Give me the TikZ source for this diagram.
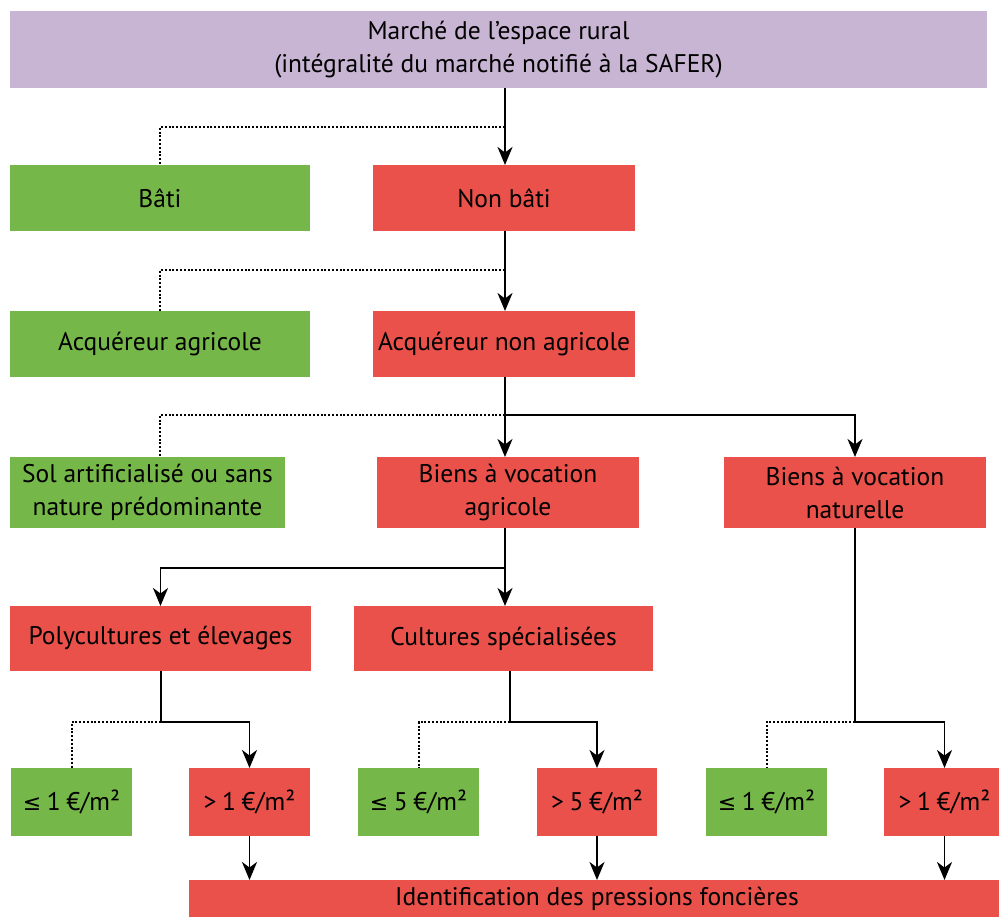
\documentclass[tikz,border=0pt]{standalone}
\usepackage{fontspec}
\setmainfont{PT Sans}
\newfontfamily\symfont{DejaVu Sans}
\usetikzlibrary{arrows.meta,calc}
\definecolor{cpurple}{HTML}{C8B4D3}
\definecolor{cgreen}{HTML}{75B748}
\definecolor{cred}{HTML}{E9514A}
\newcommand{\lesym}{{\symfont\fontsize{22}{22}\selectfont ≤}}
\newcommand{\eur}[1]{#1\hspace{0.22em}€/m²}
\begin{document}
\begin{tikzpicture}[x=1pt,y=-1pt,
  box/.style={inner sep=0pt, outer sep=0pt, align=center, text=black,
    font=\fontsize{25.5}{33}\selectfont},
  gbox/.style={box, fill=cgreen},
  rbox/.style={box, fill=cred},
  pbox/.style={box, fill=cpurple},
  conn/.style={line width=1.9pt, black},
  arr/.style={conn, -{Stealth[length=18pt,width=15pt,inset=5.5pt]}},
  dotl/.style={line width=2pt, black, dash pattern=on 2pt off 1.8pt}]
\useasboundingbox (0,0) rectangle (999,917);
\clip (0,0) rectangle (999,917);

% nodes
\node[pbox, minimum width=977pt, minimum height=77pt] (top) at (498.5,49.5)
  {Marché de l’espace rural\\(intégralité du marché notifié à la SAFER)};
\node[gbox, minimum width=300pt, minimum height=66pt] (bati) at (160,198) {Bâti};
\node[rbox, minimum width=262pt, minimum height=66pt] (nonbati) at (504,198) {Non bâti};
\node[gbox, minimum width=300pt, minimum height=66pt] (acqagr) at (160,344) {Acquéreur agricole};
\node[rbox, minimum width=262pt, minimum height=66pt] (acqnon) at (504,344) {Acquéreur non agricole};
\node[gbox, minimum width=275pt, minimum height=71pt] (sol) at (147.5,492.5)
  {Sol artificialisé ou sans\\nature prédominante};
\node[rbox, minimum width=262pt, minimum height=71pt] (bagr) at (508,492.5)
  {Biens à vocation\\agricole};
\node[rbox, minimum width=262pt, minimum height=71pt] (bnat) at (855,492.5)
  {Biens à vocation\\naturelle};
\node[rbox, minimum width=301pt, minimum height=65pt] (poly) at (160.5,638.5) {Polycultures et élevages};
\node[rbox, minimum width=299pt, minimum height=65pt] (cult) at (503.5,638.5) {Cultures spécialisées};
\node[gbox, minimum width=121pt, minimum height=68pt] (lea) at (71.5,802) {\lesym\hspace{0.22em}\eur{1}};
\node[rbox, minimum width=121pt, minimum height=68pt] (gta) at (249.5,802) {>\hspace{0.22em}\eur{1}};
\node[gbox, minimum width=121pt, minimum height=68pt] (leb) at (418.5,802) {\lesym\hspace{0.22em}\eur{5}};
\node[rbox, minimum width=120pt, minimum height=68pt] (gtb) at (597,802) {>\hspace{0.22em}\eur{5}};
\node[gbox, minimum width=121pt, minimum height=68pt] (lec) at (766.5,802) {\lesym\hspace{0.22em}\eur{1}};
\node[rbox, minimum width=121pt, minimum height=68pt] (gtc) at (944.5,802) {>\hspace{0.22em}\eur{1}};
\node[rbox, minimum width=816pt, minimum height=38pt] (ident) at (597,899)
  {Identification des pressions foncières};

% junctions
\coordinate (j1) at (505,127);
\coordinate (j2) at (505,270);
\coordinate (j3) at (505,415);
\coordinate (d3) at (160,415);
\coordinate (j4) at (505,568);
\coordinate (j5) at (161,722);
\coordinate (j6) at (510,722);
\coordinate (j7) at (855,722);

% level 1
\draw[dotl] (j1) -| (bati.north);
\draw[arr] (j1 |- top.south) -- (j1 |- nonbati.north);
% level 2
\draw[dotl] (j2) -| (acqagr.north);
\draw[arr] (j2 |- nonbati.south) -- (j2 |- acqnon.north);
% level 3
\draw[dotl] (j3) -- (d3) -- (d3 |- sol.north);
\draw[arr] (j3 |- acqnon.south) -- (j3 |- bagr.north);
\draw[arr] (j3) -| (bnat.north);
% level 4
\draw[arr] (j4 |- bagr.south) -- (j4 |- cult.north);
\draw[arr] (j4) -| (poly.north);
% level 5
\draw[conn] (j5 |- poly.south) -- (j5);
\draw[dotl] (j5) -| (lea.north);
\draw[arr] (j5) -| (gta.north);
\draw[conn] (j6 |- cult.south) -- (j6);
\draw[dotl] (j6) -| (leb.north);
\draw[arr] (j6) -| (gtb.north);
\draw[conn] (j7 |- bnat.south) -- (j7);
\draw[dotl] (j7) -| (lec.north);
\draw[arr] (j7) -| (gtc.north);
% to bottom
\draw[arr] (gta.south) -- (gta.south |- ident.north);
\draw[arr] (gtb.south) -- (gtb.south |- ident.north);
\draw[arr] (gtc.south) -- (gtc.south |- ident.north);
\end{tikzpicture}
\end{document}
